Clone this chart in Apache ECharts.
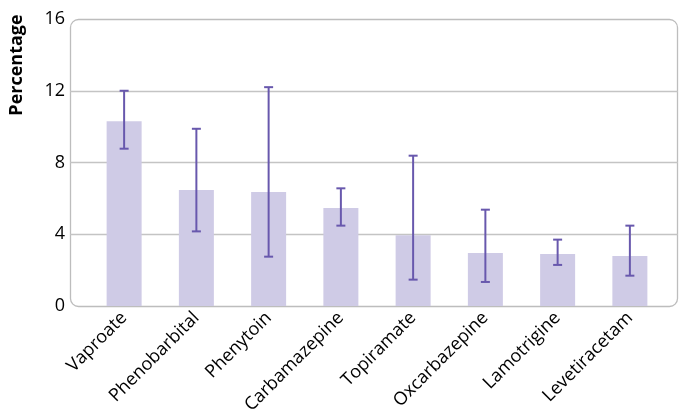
<!DOCTYPE html>
<html>
<head>
<meta charset="utf-8">
<script src="https://cdn.jsdelivr.net/npm/echarts@6/dist/echarts.min.js"></script>
<style>html,body{margin:0;padding:0;background:#fff}#c{width:679px;height:410px}</style>
</head>
<body>
<div id="c"></div>
<script>
const categories = ['Vaproate','Phenobarbital','Phenytoin','Carbamazepine','Topiramate','Oxcarbazepine','Lamotrigine','Levetiracetam'];
const values = [10.3, 6.47, 6.35, 5.46, 3.94, 2.95, 2.9, 2.79];
const errLow = [8.77, 4.16, 2.75, 4.48, 1.47, 1.34, 2.29, 1.69];
const errHigh = [12.0, 9.88, 12.2, 6.56, 8.38, 5.37, 3.7, 4.48];
const yTicks = [0, 4, 8, 12, 16];

const FONT = '"Open Sans", "Noto Sans", sans-serif';
const chart = echarts.init(document.getElementById('c'), null, {renderer: 'canvas'});
const errData = categories.map((c, i) => [i, errLow[i], errHigh[i]]);

chart.setOption({
  animation: false,
  grid: [
    {left: 70, right: 1, top: 19, bottom: 104, outerBoundsMode: 'none', containLabel: false},
    {left: 88, right: 13, top: 19, bottom: 104, outerBoundsMode: 'none', containLabel: false}
  ],
  graphic: [
    {type: 'rect', shape: {x: 70.5, y: 19.5, width: 607, height: 287, r: 8}, style: {fill: 'none', stroke: '#bdbdbd', lineWidth: 1.3}, z: 0},
    {type: 'text', x: 17, y: 65, rotation: Math.PI / 2, style: {text: 'Percentage', font: 'bold 18px ' + FONT, fill: '#000', align: 'center', verticalAlign: 'middle'}}
  ],
  xAxis: [
    {type: 'value', gridIndex: 0, show: false, min: 0, max: 1},
    {type: 'category', gridIndex: 1, data: categories,
     axisLine: {show: false}, axisTick: {show: false},
     axisLabel: {rotate: 45, margin: 9, fontSize: 18, fontFamily: FONT, color: '#000', interval: 0}}
  ],
  yAxis: [
    {type: 'value', gridIndex: 0, min: yTicks[0], max: yTicks[yTicks.length - 1], interval: 4,
     axisLine: {show: false}, axisTick: {show: false},
     axisLabel: {fontSize: 18, fontFamily: FONT, color: '#000', margin: 5},
     splitLine: {show: true, lineStyle: {color: ['transparent', '#c4c4c4', '#c4c4c4', '#c4c4c4', 'transparent'], width: 1.3}}},
    {type: 'value', gridIndex: 1, min: 0, max: 16, show: false, splitLine: {show: false}}
  ],
  series: [
    {type: 'bar', xAxisIndex: 1, yAxisIndex: 1, data: values, barWidth: 35,
     itemStyle: {color: '#cfcbe6'}, z: 2},
    {type: 'custom', xAxisIndex: 1, yAxisIndex: 1, data: errData, z: 3,
     renderItem: function (params, api) {
       const x = api.value(0);
       const lo = api.coord([x, api.value(1)]);
       const hi = api.coord([x, api.value(2)]);
       const hw = 4.5;
       const st = {stroke: '#6858ad', lineWidth: 2};
       return {type: 'group', children: [
         {type: 'line', shape: {x1: lo[0], y1: lo[1], x2: hi[0], y2: hi[1]}, style: st},
         {type: 'line', shape: {x1: lo[0] - hw, y1: lo[1], x2: lo[0] + hw, y2: lo[1]}, style: st},
         {type: 'line', shape: {x1: hi[0] - hw, y1: hi[1], x2: hi[0] + hw, y2: hi[1]}, style: st}
       ]};
     }}
  ]
});
</script>
</body>
</html>
